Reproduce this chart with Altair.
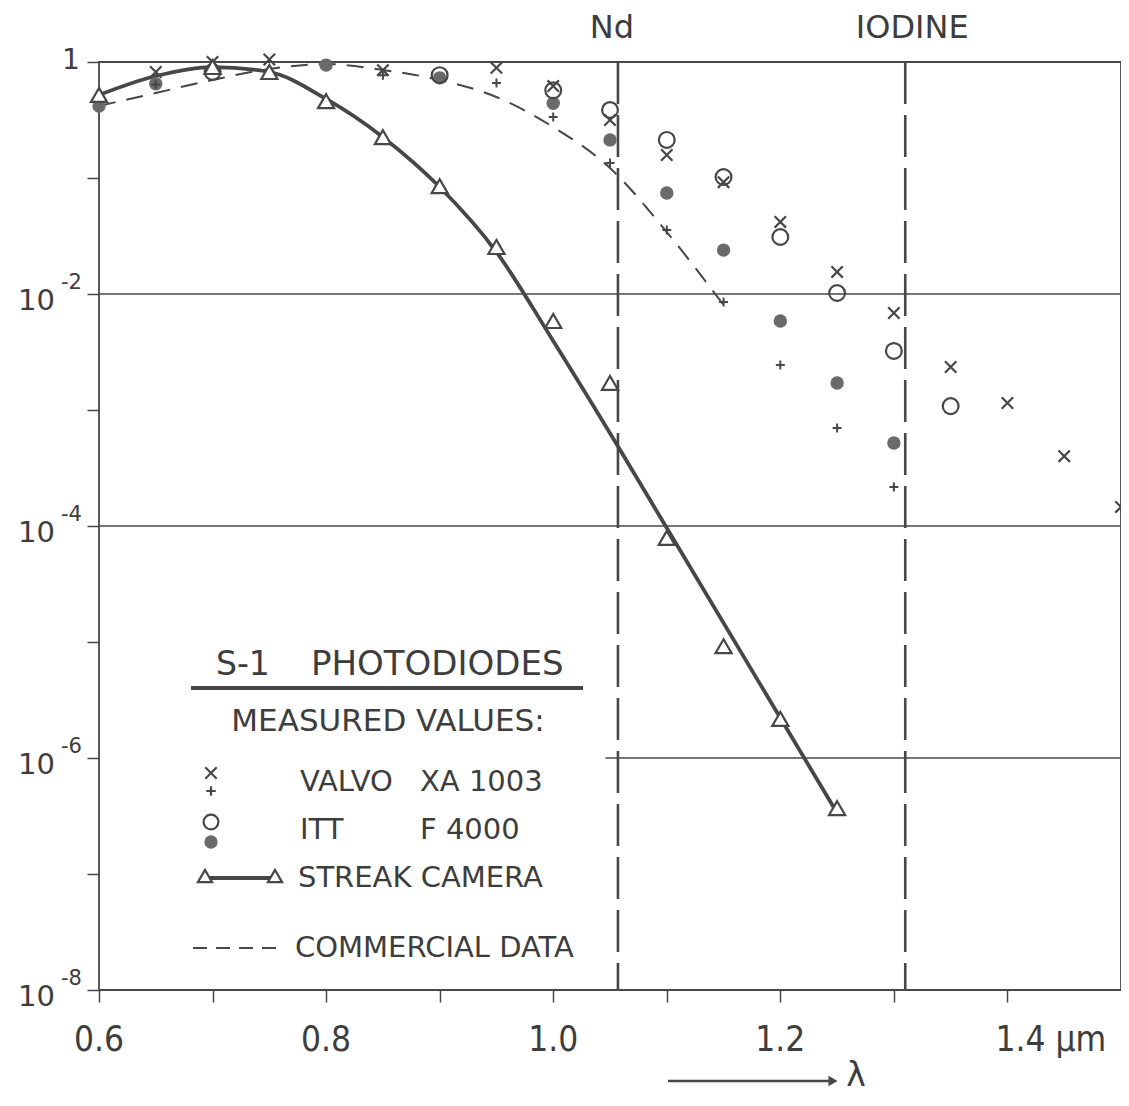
import altair as alt
import pandas as pd

# ---------------- data ----------------
streak_x = [0.60, 0.70, 0.75, 0.80, 0.85, 0.90, 0.95, 1.00, 1.05, 1.10, 1.15, 1.20, 1.25]
streak_y = [0.52, 0.905, 0.82, 0.46, 0.225, 0.085, 0.0254, 0.00585, 0.00171, 7.9e-5, 9.2e-6, 2.17e-6, 3.7e-7]

streak_fit_x = [0.60, 0.65, 0.70, 0.75, 0.80, 0.85, 0.90, 0.95, 1.00, 1.06, 1.10, 1.25]
streak_fit_y = [0.52, 0.757, 0.905, 0.82, 0.48, 0.225, 0.0836, 0.023, 0.00394, 4.35e-4, 9.6e-5, 3.36e-7]

commercial_x = [0.60, 0.65, 0.70, 0.75, 0.80, 0.85, 0.90, 0.95, 1.00, 1.05, 1.10, 1.15]
commercial_y = [0.418, 0.541, 0.70, 0.87, 0.96, 0.853, 0.70, 0.499, 0.275, 0.122, 0.0342, 0.00804]

valvo_x_x = [0.65, 0.70, 0.75, 0.85, 0.95, 1.00, 1.05, 1.10, 1.15, 1.20, 1.25, 1.30, 1.35, 1.40, 1.45, 1.50]
valvo_x_y = [0.82, 1.0, 1.05, 0.85, 0.89, 0.62, 0.316, 0.158, 0.092, 0.0418, 0.0155, 0.00686, 0.00235, 0.00115, 4.0e-4, 1.46e-4]

valvo_p_x = [0.65, 0.85, 0.95, 1.00, 1.05, 1.10, 1.15, 1.20, 1.25, 1.30]
valvo_p_y = [0.64, 0.77, 0.66, 0.336, 0.135, 0.0356, 0.00853, 0.00244, 7.0e-4, 2.17e-4]

itt_open_x = [0.70, 0.90, 1.00, 1.05, 1.10, 1.15, 1.20, 1.25, 1.30, 1.35]
itt_open_y = [0.82, 0.77, 0.57, 0.386, 0.213, 0.102, 0.031, 0.0102, 0.00323, 0.00108]

itt_fill_x = [0.60, 0.65, 0.80, 0.90, 1.00, 1.05, 1.10, 1.15, 1.20, 1.25, 1.30]
itt_fill_y = [0.418, 0.65, 0.94, 0.73, 0.44, 0.213, 0.0743, 0.0239, 0.00585, 0.00171, 5.2e-4]

laser_names = ["Nd", "IODINE"]
laser_x = [1.057, 1.31]

x_ticks = [0.6, 0.7, 0.8, 0.9, 1.0, 1.1, 1.2, 1.3, 1.4]
x_label_vals = [0.6, 0.8, 1.0, 1.2]
x_label_text = ["0.6", "0.8", "1.0", "1.2"]
y_ticks = [1e-8, 1e-7, 1e-6, 1e-5, 1e-4, 1e-3, 1e-2, 1e-1, 1]
y_label_vals = [1e-2, 1e-4, 1e-6, 1e-8]
y_label_exp = ["-2", "-4", "-6", "-8"]

grid_y = [1e-2, 1e-4, 1e-6]
grid_x0 = [0.6, 0.6, 1.046]
grid_x1 = [1.5, 1.5, 1.5]

# ---------------- styling ----------------
W, H = 1022, 928
INK = "#474747"
TXT = "#3d3d3d"
FILL = "#6a6a6a"
FONT = "DejaVu Sans"
CFONT = "DejaVu Sans Condensed"
XSHAPE = "M-1,-1L1,1M-1,1L1,-1"
PSHAPE = "M-1,0L1,0M0,-1L0,1"

xs = alt.Scale(domain=[0.6, 1.5], nice=False, zero=False)
ys = alt.Scale(type="log", domain=[1e-8, 1], nice=False)
xaxis = alt.Axis(values=x_ticks, labels=False, ticks=True, tickSize=12, tickWidth=1.5,
                 tickColor=INK, domain=False, grid=False, title=None)
yaxis = alt.Axis(values=y_ticks, labels=False, ticks=True, tickSize=12, tickWidth=1.5,
                 tickColor=INK, domain=False, grid=False, title=None)


def X(f):
    return alt.X(f, type="quantitative", scale=xs, axis=xaxis)


def Y(f):
    return alt.Y(f, type="quantitative", scale=ys, axis=yaxis)


def df(xv, yv):
    return pd.DataFrame({"x": xv, "y": yv})


dummy = pd.DataFrame({"a": [0]})


def txt(s, x, y, size, align="left", font=FONT):
    return alt.Chart(dummy).mark_text(text=s, align=align, baseline="middle", fontSize=size,
                                      font=font, color=TXT).encode(x=alt.value(x), y=alt.value(y))


def sym(shape, x, y, size, filled=False, fill="white", sw=2):
    if filled:
        m = alt.Chart(dummy).mark_point(shape=shape, size=size, filled=True, color=fill, opacity=1)
    else:
        m = alt.Chart(dummy).mark_point(shape=shape, size=size, filled=False, stroke=INK,
                                        strokeWidth=sw, opacity=1, fill=fill)
    return m.encode(x=alt.value(x), y=alt.value(y))


def hline(x0, x1, y, sw, dash=None):
    kw = dict(color=INK, strokeWidth=sw)
    if dash:
        kw["strokeDash"] = dash
    return alt.Chart(dummy).mark_rule(**kw).encode(x=alt.value(x0), x2=alt.value(x1), y=alt.value(y))


layers = []

# grid lines
grid = pd.DataFrame({"y": grid_y, "x0": grid_x0, "x1": grid_x1})
layers.append(alt.Chart(grid).mark_rule(color=INK, strokeWidth=1.5).encode(
    x=X("x0"), x2=alt.X2("x1"), y=Y("y")))

# laser lines
lasers = pd.DataFrame({"name": laser_names, "x": laser_x})
layers.append(alt.Chart(lasers).mark_rule(color=INK, strokeWidth=2.6, strokeDash=[42, 11]).encode(
    x=X("x")))
layers.append(alt.Chart(lasers).transform_filter("datum.name == 'Nd'").mark_text(
    fontSize=32, font=FONT, color=TXT, dx=-6, baseline="middle").encode(
    x=X("x"), y=alt.value(-34), text="name"))
layers.append(alt.Chart(lasers).transform_filter("datum.name == 'IODINE'").mark_text(
    fontSize=32, font=FONT, color=TXT, dx=7, baseline="middle").encode(
    x=X("x"), y=alt.value(-34), text="name"))

# commercial data (dashed)
layers.append(alt.Chart(df(commercial_x, commercial_y)).mark_line(
    color=INK, strokeWidth=2, strokeDash=[17, 11], interpolate="monotone").encode(x=X("x"), y=Y("y")))

# streak camera fit
layers.append(alt.Chart(df(streak_fit_x, streak_fit_y)).mark_line(
    color=INK, strokeWidth=3.8, interpolate="monotone").encode(x=X("x"), y=Y("y")))

# markers
layers.append(alt.Chart(df(itt_fill_x, itt_fill_y)).mark_point(
    shape="circle", size=180, filled=True, color=FILL, opacity=1).encode(x=X("x"), y=Y("y")))
layers.append(alt.Chart(df(itt_open_x, itt_open_y)).mark_point(
    shape="circle", size=250, filled=False, stroke=INK, strokeWidth=2.2, opacity=1).encode(x=X("x"), y=Y("y")))
layers.append(alt.Chart(df(valvo_x_x, valvo_x_y)).mark_point(
    shape=XSHAPE, size=130, filled=False, stroke=INK, strokeWidth=2.2, opacity=1).encode(x=X("x"), y=Y("y")))
layers.append(alt.Chart(df(valvo_p_x, valvo_p_y)).mark_point(
    shape=PSHAPE, size=80, filled=False, stroke=INK, strokeWidth=2, opacity=1).encode(x=X("x"), y=Y("y")))
layers.append(alt.Chart(df(streak_x, streak_y)).mark_point(
    shape="triangle-up", size=260, filled=False, stroke=INK, strokeWidth=2.2, fill="white",
    opacity=1).encode(x=X("x"), y=Y("y")))

# axis labels
ylab = pd.DataFrame({"y": y_label_vals, "exp": y_label_exp, "base": ["10"] * len(y_label_vals)})
layers.append(alt.Chart(ylab).mark_text(align="right", baseline="middle", fontSize=29, font=FONT,
                                         color=TXT, dy=7).encode(x=alt.value(-44), y=Y("y"), text="base"))
layers.append(alt.Chart(ylab).mark_text(align="left", baseline="middle", fontSize=21, font=FONT,
                                         color=TXT, dy=-11).encode(x=alt.value(-38), y=Y("y"), text="exp"))
layers.append(txt("1", -28, -1, 28, align="center"))

xlab = pd.DataFrame({"x": x_label_vals, "t": x_label_text})
layers.append(alt.Chart(xlab).mark_text(align="center", baseline="middle", fontSize=35, font=CFONT,
                                         color=TXT).encode(x=X("x"), y=alt.value(978), text="t"))
layers.append(alt.Chart(pd.DataFrame({"x": [1.4], "t": ["1.4 µm"]})).mark_text(
    align="left", baseline="middle", fontSize=35, font=CFONT, color=TXT, dx=-12).encode(
    x=X("x"), y=alt.value(978), text="t"))

# lambda arrow
layers.append(hline(569, 730, 1019, 2.5))
layers.append(sym("triangle-right", 734, 1019, 110, filled=True, fill=INK))
layers.append(txt("λ", 757, 1014, 33, align="center"))

# legend
layers.append(txt("S-1", 117, 603, 33))
layers.append(txt("PHOTODIODES", 212, 603, 34))
layers.append(hline(92, 484, 626, 4))
layers.append(txt("MEASURED VALUES:", 289, 660, 31, align="center"))
layers.append(sym(XSHAPE, 112, 711, 130, sw=2.2))
layers.append(sym(PSHAPE, 112, 729, 90, sw=2.2))
layers.append(txt("VALVO", 201, 720, 29))
layers.append(txt("XA 1003", 321, 720, 29))
layers.append(sym("circle", 112, 760, 220, sw=2.2))
layers.append(sym("circle", 112, 780, 180, filled=True, fill=FILL))
layers.append(txt("ITT", 201, 768, 29))
layers.append(txt("F 4000", 321, 768, 29))
layers.append(hline(106, 176, 816, 3.8))
layers.append(sym("triangle-up", 106, 814, 200, sw=2.2))
layers.append(sym("triangle-up", 176, 814, 200, sw=2.2))
layers.append(txt("STREAK CAMERA", 199, 816, 29))
layers.append(hline(94, 186, 886, 2, dash=[14, 9]))
layers.append(txt("COMMERCIAL DATA", 196, 886, 29))

chart = alt.layer(*layers).properties(
    width=W, height=H,
    autosize=alt.AutoSizeParams(type="none"),
    padding={"left": 91, "top": 54, "right": 0, "bottom": 108},
    background="white",
).configure_view(stroke=INK, strokeWidth=1.8)

chart.save("out.html", embed_options={"renderer": "svg", "actions": False})
